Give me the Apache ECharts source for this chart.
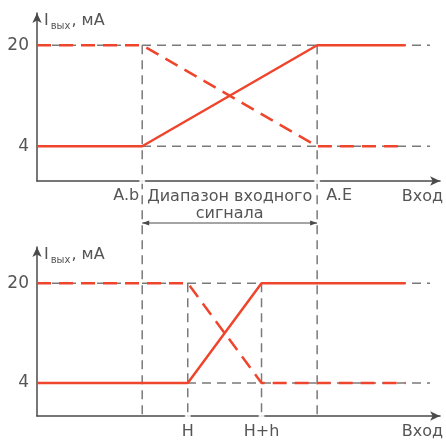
<!DOCTYPE html>
<html>
<head>
<meta charset="utf-8">
<script src="https://cdn.jsdelivr.net/npm/echarts@6/dist/echarts.min.js"></script>
<style>
html, body { margin: 0; padding: 0; background: #fff; }
#main { width: 446px; height: 444px; }
</style>
</head>
<body>
<div id="main"></div>
<script>
// точки на оси входа (в условных единицах 0..100)
var pAb = 26.1, pAE = 69.5, pH = 37.4, pHh = 55.7;
var lineEnd = 91.4, guideEnd = 97.5;
var levels = [4, 20];

// верхний график
var topSolid = [[0, 4], [pAb, 4], [pAE, 20], [lineEnd, 20]];
var topDashed = [[0, 20], [pAb, 20], [pAE, 4], [lineEnd, 4]];
var topLabelValues = [(pAb + pAE) / 2, 95.6];
var topLabelTexts = ['Диапазон входного\nсигнала', 'Вход'];

// нижний график
var botSolid = [[0, 4], [pH, 4], [pHh, 20], [lineEnd, 20]];
var botDashed = [[0, 20], [pH, 20], [pHh, 4], [lineEnd, 4]];
var botLabelValues = [pH, pHh, 95.6];
var botLabelTexts = ['H', 'H+h', 'Вход'];

var red = '#ef452c';
var gray = '#7a7a7a';
var axisColor = '#4a4a4a';
var textColor = '#555';
var fontFamily = '"DejaVu Sans", sans-serif';

var topMin = -1.5, topMax = 25.1;
var botMin = -1.3, botMax = 25.8;

var myChart = echarts.init(document.getElementById('main'));

function makeXAxis(idx, values, texts) {
    return {
        gridIndex: idx,
        type: 'value',
        min: 0,
        max: 100,
        splitLine: { show: false },
        axisTick: { show: false },
        axisLine: {
            show: true,
            onZero: false,
            symbol: ['none', 'arrow'],
            symbolSize: [7, 10],
            lineStyle: { color: axisColor, width: 1.5 }
        },
        axisLabel: {
            customValues: values,
            hideOverlap: false,
            showMinLabel: true,
            showMaxLabel: true,
            margin: 7,
            color: textColor,
            fontSize: 16,
            lineHeight: 17,
            fontFamily: fontFamily,
            formatter: function (v) {
                var i = values.indexOf(v);
                return i >= 0 ? texts[i] : '';
            }
        }
    };
}

function makeYAxis(idx, min, max) {
    return {
        gridIndex: idx,
        type: 'value',
        min: min,
        max: max,
        splitLine: { show: false },
        axisTick: { show: false },
        axisLine: {
            show: true,
            onZero: false,
            symbol: ['none', 'arrow'],
            symbolSize: [7, 10],
            lineStyle: { color: axisColor, width: 1.5 }
        },
        axisLabel: {
            customValues: levels,
            margin: 8,
            color: textColor,
            fontSize: 17,
            fontFamily: fontFamily
        },
        name: '{i|I}{s|вых}{u|, мА}',
        nameLocation: 'end',
        nameGap: -8,
        nameTextStyle: {
            align: 'left',
            verticalAlign: 'middle',
            padding: [0, 0, 0, 7],
            rich: {
                i: { fontSize: 16, color: textColor, fontFamily: fontFamily },
                s: { fontSize: 10, color: textColor, fontFamily: fontFamily, padding: [10, 1, 0, 2] },
                u: { fontSize: 16, color: textColor, fontFamily: fontFamily }
            }
        }
    };
}

function guide(idx, data) {
    return {
        type: 'line', xAxisIndex: idx, yAxisIndex: idx, data: data,
        symbol: 'none', silent: true, z: 1,
        lineStyle: { color: gray, width: 1.5, type: [9, 6] }
    };
}

function redLine(idx, data, dashed) {
    return {
        type: 'line', xAxisIndex: idx, yAxisIndex: idx, data: data,
        symbol: 'none', z: 3,
        lineStyle: { color: red, width: 2.5, type: dashed ? [14, 8] : 'solid' }
    };
}

function axisDots(idx, xs, yMin) {
    return {
        type: 'scatter', xAxisIndex: idx, yAxisIndex: idx,
        data: xs.map(function (x) { return [x, yMin]; }),
        symbol: 'emptyCircle', symbolSize: 4, z: 4,
        itemStyle: { color: '#fff', borderColor: axisColor, borderWidth: 1 }
    };
}

var option = {
    animation: false,
    grid: [
        { left: 37, right: 3, top: 13, height: 168 },
        { left: 37, right: 3, top: 247, height: 169 }
    ],
    xAxis: [
        makeXAxis(0, topLabelValues, topLabelTexts),
        makeXAxis(1, botLabelValues, botLabelTexts)
    ],
    yAxis: [
        makeYAxis(0, topMin, topMax),
        makeYAxis(1, botMin, botMax)
    ],
    series: [
        guide(0, [[0, 20], [guideEnd, 20]]),
        guide(0, [[0, 4], [guideEnd, 4]]),
        guide(1, [[0, 20], [guideEnd, 20]]),
        guide(1, [[0, 4], [guideEnd, 4]]),
        guide(1, [[pH, 20], [pH, botMin]]),
        guide(1, [[pHh, 20], [pHh, botMin]]),
        redLine(0, topSolid, false),
        redLine(0, topDashed, true),
        redLine(1, botSolid, false),
        redLine(1, botDashed, true),
        axisDots(0, [pAb, pAE], topMin),
        axisDots(1, [pH, pHh], botMin)
    ]
};

myChart.setOption(option);

// вертикальные линии A.b и A.E через оба графика + стрелка диапазона
function px(idx, x, y) {
    return myChart.convertToPixel({ xAxisIndex: idx, yAxisIndex: idx }, [x, y]);
}

var graphics = [];
[pAb, pAE].forEach(function (x) {
    var a = px(0, x, 20);
    var b = px(1, x, botMin);
    graphics.push({
        type: 'line', z: 1, silent: true,
        shape: { x1: a[0], y1: a[1], x2: b[0], y2: b[1] },
        style: { stroke: gray, lineWidth: 1.5, lineDash: [9, 6] }
    });
});

var left = px(0, pAb, topMin);
var right = px(0, pAE, topMin);

// подписи A.b (слева от линии) и A.E (справа)
graphics.push({
    type: 'text', silent: true,
    x: left[0] - 3, y: left[1] + 7,
    style: {
        text: 'A.b', fill: textColor, fontSize: 16, fontFamily: fontFamily,
        align: 'right', verticalAlign: 'top'
    }
});
graphics.push({
    type: 'text', silent: true,
    x: right[0] + 9, y: right[1] + 7,
    style: {
        text: 'A.E', fill: textColor, fontSize: 16, fontFamily: fontFamily,
        align: 'left', verticalAlign: 'top'
    }
});

var ay = left[1] + 42;
graphics.push({
    type: 'line', silent: true,
    shape: { x1: left[0], y1: ay, x2: right[0], y2: ay },
    style: { stroke: axisColor, lineWidth: 1 }
});
graphics.push({
    type: 'polygon', silent: true,
    shape: { points: [[left[0], ay], [left[0] + 7, ay - 2.5], [left[0] + 7, ay + 2.5]] },
    style: { fill: axisColor }
});
graphics.push({
    type: 'polygon', silent: true,
    shape: { points: [[right[0], ay], [right[0] - 7, ay - 2.5], [right[0] - 7, ay + 2.5]] },
    style: { fill: axisColor }
});

myChart.setOption({ graphic: graphics });
</script>
</body>
</html>
